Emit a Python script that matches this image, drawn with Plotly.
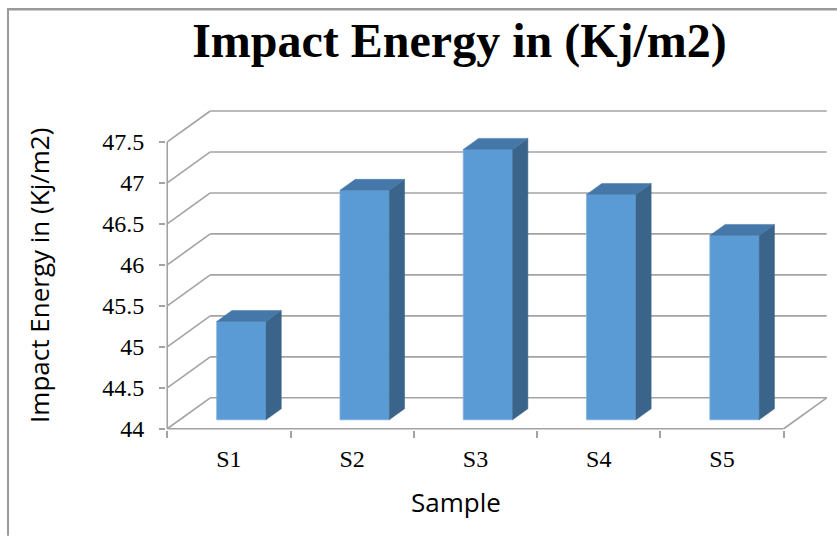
import plotly.graph_objects as go

# ---------------- data ----------------
categories = ["S1", "S2", "S3", "S4", "S5"]
impact_energy = [45.2, 46.8, 47.3, 46.75, 46.25]
y_ticks = [44, 44.5, 45, 45.5, 46, 46.5, 47, 47.5]
y_tick_labels = ["44", "44.5", "45", "45.5", "46", "46.5", "47", "47.5"]
title_text = "Impact Energy in (Kj/m2)"
y_title_text = "Impact Energy in (Kj/m2)"
x_title_text = "Sample"

# ---------------- layout geometry / style ----------------
W, H = 837, 536
L = 166
PX_X = 123.3          # pixels per category
PX_Y = 82.0           # pixels per value unit
XR = [-0.01, 5.40]
YR = [43.985, 48.0]
T = 101
plot_w = PX_X * (XR[1] - XR[0])
plot_h = PX_Y * (YR[1] - YR[0])
R = W - L - plot_w
B = H - T - plot_h

DX, DY = 0.349, 0.378     # depth of the floor (in axis units)
D0, D1 = 0.29, 0.645      # bar front/back depth fractions
BW = 0.4                  # bar width (category units)

FRONT = "#5B9BD5"
TOP = "#4577A8"
SIDE = "#3A648A"
GRID = "#A3A3A3"
FRAME = "#9A9A9A"

n = len(categories)
base = y_ticks[0]


def px_to_paper_x(px):
    return (px - L) / plot_w


def py_to_paper_y(py):
    return (H - B - py) / plot_h


shapes = []


def line(x0, y0, x1, y1):
    shapes.append(dict(type="line", xref="x", yref="y", x0=x0, y0=y0, x1=x1, y1=y1,
                       line=dict(color=GRID, width=1.6), layer="below"))


# back wall and left wall gridlines
for v in y_ticks:
    line(DX, v + DY, n + DX, v + DY)
    line(0, v, DX, v + DY)
# floor
line(0, base, n, base)
line(n, base, n + DX, base + DY)
# front vertical axis
line(0, base, 0, y_ticks[-1])

# chart frame (top and left border; right/bottom lie outside the picture)
shapes.append(dict(type="rect", xref="paper", yref="paper",
                   x0=px_to_paper_x(7), y0=py_to_paper_y(10.5),
                   x1=px_to_paper_x(W), y1=py_to_paper_y(8),
                   line=dict(width=0), fillcolor=FRAME, layer="above"))
shapes.append(dict(type="rect", xref="paper", yref="paper",
                   x0=px_to_paper_x(7), y0=py_to_paper_y(H),
                   x1=px_to_paper_x(9), y1=py_to_paper_y(8),
                   line=dict(width=0), fillcolor=FRAME, layer="above"))

fig = go.Figure()

# front faces
xs_front = [i + 0.5 + D0 * DX for i in range(n)]
fig.add_trace(go.Bar(
    x=xs_front, y=[v - base for v in impact_energy], base=base + D0 * DY,
    width=BW, marker=dict(color=FRONT, line=dict(color="#7FAEDC", width=0.8)),
    customdata=impact_energy, hovertext=categories,
    hovertemplate="%{hovertext}: %{customdata}<extra></extra>", showlegend=False,
))

ddx = (D1 - D0) * DX
ddy = (D1 - D0) * DY
side_x, side_y, top_x, top_y = [], [], [], []
for i, v in enumerate(impact_energy):
    x0 = i + 0.5 - BW / 2 + D0 * DX
    x1 = i + 0.5 + BW / 2 + D0 * DX
    yb = base + D0 * DY
    yt = v + D0 * DY
    side_x += [x1, x1, x1 + ddx, x1 + ddx, x1, None]
    side_y += [yb, yt, yt + ddy, yb + ddy, yb, None]
    top_x += [x0, x1, x1 + ddx, x0 + ddx, x0, None]
    top_y += [yt, yt, yt + ddy, yt + ddy, yt, None]

fig.add_trace(go.Scatter(x=side_x, y=side_y, mode="lines", fill="toself",
                         fillcolor=SIDE, line=dict(color=SIDE, width=0.5),
                         hoverinfo="skip", showlegend=False))
fig.add_trace(go.Scatter(x=top_x, y=top_y, mode="lines", fill="toself",
                         fillcolor=TOP, line=dict(color=TOP, width=0.5),
                         hoverinfo="skip", showlegend=False))

fig.update_layout(
    width=W, height=H,
    margin=dict(l=L, r=R, t=T, b=B, pad=0),
    paper_bgcolor="white", plot_bgcolor="rgba(0,0,0,0)",
    showlegend=False,
    shapes=shapes,
    title=dict(text="<b>" + title_text + "</b>",
               font=dict(family="Liberation Serif", size=48, color="black"),
               x=459.5 / W, xref="container", xanchor="center",
               y=1 - 40 / H, yref="container", yanchor="middle"),
    xaxis=dict(range=XR, showgrid=False, zeroline=False, showline=False,
               tickmode="array", tickvals=[i + 0.5 for i in range(n)],
               ticktext=categories, ticks="",
               tickfont=dict(family="Liberation Serif", size=24, color="black"),
               ticklabelstandoff=12,
               minor=dict(tickmode="array", tickvals=list(range(n + 1)),
                          ticks="outside", ticklen=7, tickwidth=1.5,
                          tickcolor=GRID, showgrid=False),
               fixedrange=True),
    yaxis=dict(range=YR, showgrid=False, zeroline=False, showline=False,
               tickmode="array", tickvals=y_ticks, ticktext=y_tick_labels,
               ticks="outside", ticklen=6, tickwidth=1.5, tickcolor=GRID,
               tickfont=dict(family="Liberation Serif", size=24, color="black"),
               ticklabelstandoff=10,
               fixedrange=True),
    annotations=[
        dict(text=y_title_text, textangle=-90, xref="paper", yref="paper",
             x=px_to_paper_x(39), y=py_to_paper_y(276), xanchor="center",
             yanchor="middle", showarrow=False,
             font=dict(family="Open Sans", size=26, color="black")),
        dict(text=x_title_text, xref="paper", yref="paper",
             x=px_to_paper_x(456), y=py_to_paper_y(502), xanchor="center",
             yanchor="middle", showarrow=False,
             font=dict(family="Open Sans", size=26, color="black")),
    ],
)

fig.write_html("out.html")
